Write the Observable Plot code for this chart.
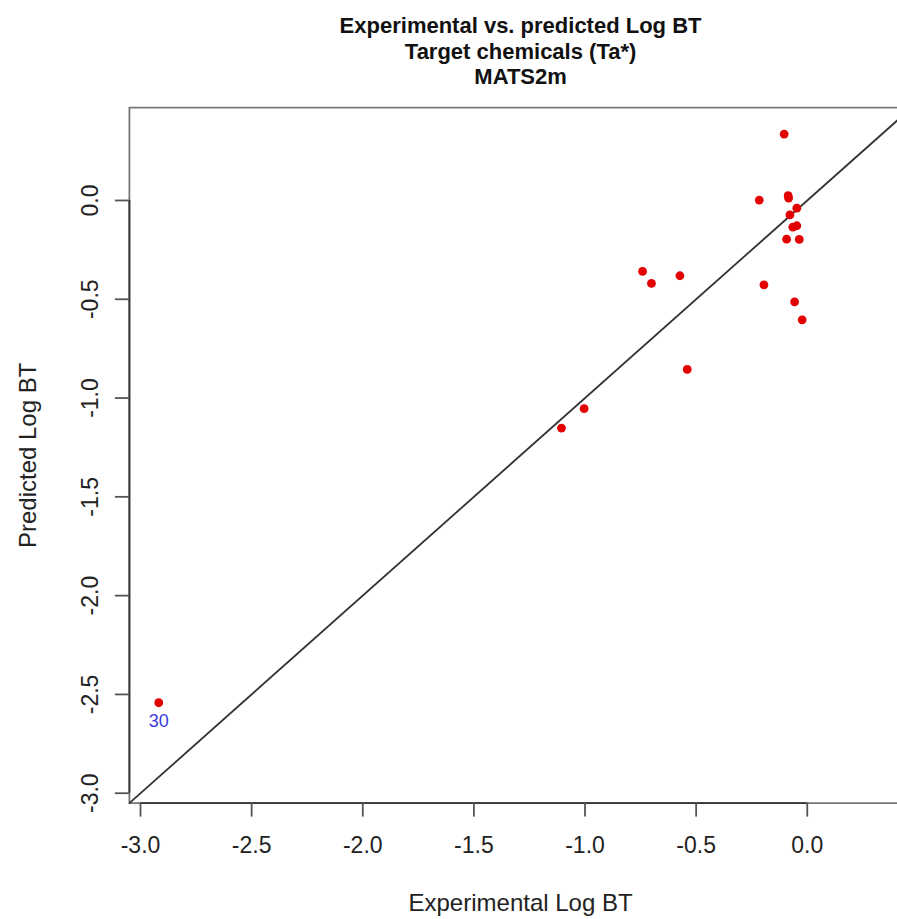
<!DOCTYPE html>
<html>
<head>
<meta charset="utf-8">
<script src="https://cdn.jsdelivr.net/npm/d3@7"></script>
<script src="https://cdn.jsdelivr.net/npm/@observablehq/plot@0.6"></script>
<style>
  html, body { margin: 0; padding: 0; background: #fff; }
  #chart svg { display: block; }
</style>
</head>
<body>
<div id="chart"></div>
<script>
// Experimental vs. predicted Log BT for the target chemicals (MATS2m model)
const experimental = [-0.104, -0.216, -0.086, -0.084, -0.047, -0.078, -0.065, -0.047, -0.093, -0.036,
                      -0.741, -0.701, -0.573, -0.195, -0.057, -0.023, -0.540, -1.004, -1.106, -2.918];
const predicted    = [0.336, 0.002, 0.024, 0.012, -0.039, -0.073, -0.135, -0.128, -0.196, -0.197,
                      -0.359, -0.420, -0.381, -0.427, -0.513, -0.604, -0.855, -1.054, -1.152, -2.542];
const pointLabels  = ["", "", "", "", "", "", "", "", "", "",
                      "", "", "", "", "", "", "", "", "", "30"];

const xTicks = [-3.0, -2.5, -2.0, -1.5, -1.0, -0.5, 0.0];
const yTicks = [-3.0, -2.5, -2.0, -1.5, -1.0, -0.5, 0.0];
const axisLimits = [-3.05, 0.47];   // shared limits of both axes
const xVisibleMax = 0.406;          // right end of the drawn x range

const titleLines = ["Experimental vs. predicted Log BT", "Target chemicals (Ta*)", "MATS2m"];
const xTitle = "Experimental Log BT";
const yTitle = "Predicted Log BT";

const points = experimental.map((x, i) => ({x, y: predicted[i], label: pointLabels[i]}));
const fmt = d => d.toFixed(1);
const mid = (axisLimits[0] + axisLimits[1]) / 2;
const font = "'Liberation Sans', Arial, Helvetica, sans-serif";

const chart = Plot.plot({
  width: 897,
  height: 919,
  marginLeft: 128.9,
  marginRight: 0,
  marginTop: 107.1,
  marginBottom: 116.4,
  style: {fontFamily: font, background: "#fff", color: "#222"},
  x: {domain: [axisLimits[0], xVisibleMax], axis: null},
  y: {domain: axisLimits, axis: null},
  marks: [
    // plot box (top, left, bottom)
    Plot.ruleY([axisLimits[1]], {stroke: "#777", strokeWidth: 1.8}),
    Plot.ruleX([axisLimits[0]], {stroke: "#777", strokeWidth: 1.8}),
    Plot.ruleY([axisLimits[0]], {stroke: "#777", strokeWidth: 1.8}),
    // axis lines spanning the ticks
    Plot.ruleY([axisLimits[0]], {x1: d3.min(xTicks), x2: d3.max(xTicks), stroke: "#333", strokeWidth: 1.8}),
    Plot.ruleX([axisLimits[0]], {y1: d3.min(yTicks), y2: d3.max(yTicks), stroke: "#333", strokeWidth: 1.8}),
    // ticks and tick labels
    Plot.axisX(xTicks, {anchor: "bottom", label: null, tickSize: 14, tickPadding: 20, tickFormat: fmt,
      fontSize: 23, stroke: "#555", strokeWidth: 1.8, fill: "#222"}),
    Plot.axisY(yTicks, {anchor: "left", label: null, tickSize: 14, text: null, stroke: "#555", strokeWidth: 1.8}),
    Plot.text(yTicks, {y: d => d, text: fmt, frameAnchor: "left", dx: -39, rotate: -90,
      textAnchor: "middle", lineAnchor: "middle", fontSize: 23, fill: "#222"}),
    // identity line y = x
    Plot.line([axisLimits[0], xVisibleMax], {x: d => d, y: d => d, stroke: "#333", strokeWidth: 1.8}),
    // observations
    Plot.dot(points, {x: "x", y: "y", r: 4.4, fill: "#e20000", stroke: "none"}),
    Plot.text(points.filter(d => d.label), {x: "x", y: "y", text: "label", dy: 19,
      fontSize: 18, fill: "#3b3bdc"}),
    // axis titles
    Plot.text([xTitle], {x: mid, frameAnchor: "bottom", dy: 100.5, text: d => d,
      fontSize: 24, fill: "#222", lineAnchor: "middle"}),
    Plot.text([yTitle], {y: mid, frameAnchor: "left", dx: -101, rotate: -90, text: d => d,
      fontSize: 24, fill: "#222", textAnchor: "middle", lineAnchor: "middle"}),
    // main title
    Plot.text([titleLines.join("\n")], {x: mid, frameAnchor: "top", dy: -57, text: d => d,
      fontSize: 22, fontWeight: "bold", fill: "#111", lineAnchor: "middle", lineHeight: 1.16})
  ]
});
document.getElementById("chart").appendChild(chart);
</script>
</body>
</html>
